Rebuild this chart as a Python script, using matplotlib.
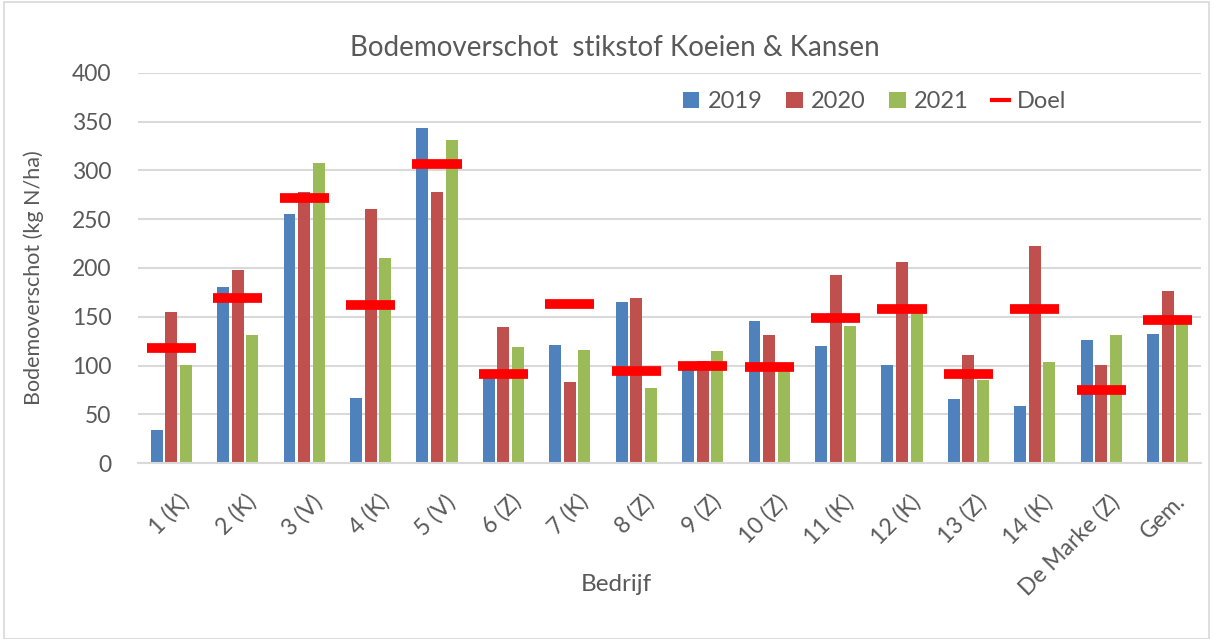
import numpy as np
import matplotlib.pyplot as plt
import matplotlib.transforms as mtransforms
from matplotlib.patches import Rectangle
from matplotlib.lines import Line2D

# data
bedrijven = ['1 (K)', '2 (K)', '3 (V)', '4 (K)', '5 (V)', '6 (Z)', '7 (K)', '8 (Z)',
             '9 (Z)', '10 (Z)', '11 (K)', '12 (K)', '13 (Z)', '14 (K)', 'De Marke (Z)', 'Gem.']
y2019 = [34, 181, 255, 67, 344, 90, 121, 165, 97, 146, 120, 101, 66, 58, 126, 132]
y2020 = [155, 198, 278, 260, 278, 139, 83, 169, 105, 131, 193, 206, 111, 223, 101, 176]
y2021 = [101, 131, 308, 210, 331, 119, 116, 77, 115, 96, 141, 155, 85, 104, 131, 143]
doel = [118, 169, 272, 162, 307, 91, 163, 94, 99, 98, 149, 158, 91, 158, 75, 147]

grijs = '#595959'
plt.rcParams['font.family'] = ['Lato', 'DejaVu Sans']

fig = plt.figure(figsize=(12.13, 6.39), dpi=100)
ax = fig.add_axes([0.1138, 0.2754, 0.8762, 0.6104])

x = np.arange(len(bedrijven))
w = 0.18
ax.bar(x - 0.22, y2019, w, color='#4F81BD', label='2019', zorder=2)
ax.bar(x, y2020, w, color='#C0504D', label='2020', zorder=2)
ax.bar(x + 0.22, y2021, w, color='#9BBB59', label='2021', zorder=2)
# doel as thick horizontal dashes
ax.hlines(doel, x - 0.37, x + 0.37, colors='#FF0000', linewidth=7, zorder=3)

ax.set_xlim(-0.5, len(bedrijven) - 0.5)
ax.set_ylim(0, 400)
ax.set_yticks(range(0, 401, 50))
ax.grid(axis='y', color='#D9D9D9', linewidth=1.5, zorder=0)
ax.set_axisbelow(True)
for s in ['top', 'right', 'left']:
    ax.spines[s].set_visible(False)
ax.spines['bottom'].set_color('#D9D9D9')
ax.spines['bottom'].set_linewidth(1.5)
ax.tick_params(length=0, colors=grijs, labelsize=16.5)
ax.tick_params(axis='y', pad=19)
ax.tick_params(axis='x', pad=20)
ax.set_xticks(x)
ax.set_xticklabels(bedrijven, rotation=45, ha='right', rotation_mode='anchor')
shift = mtransforms.ScaledTranslation(0.07, 0, fig.dpi_scale_trans)
for lbl in ax.get_xticklabels():
    lbl.set_transform(lbl.get_transform() + shift)

fig.text(0.028, 0.565, 'Bodemoverschot (kg N/ha)', rotation=90, ha='center',
         va='center', color=grijs, fontsize=15.5)
fig.text(0.508, 0.085, 'Bedrijf', ha='center', va='center', color=grijs, fontsize=17.5)
fig.text(0.507, 0.925, 'Bodemoverschot  stikstof Koeien & Kansen', ha='center',
         va='center', color=grijs, fontsize=20)

handles, labels = ax.get_legend_handles_labels()
handles.append(Line2D([], [], color='#FF0000', linewidth=3))
labels.append('Doel')
leg = ax.legend(handles, labels, ncol=4, loc='center', bbox_to_anchor=(0.693, 0.926),
                frameon=False, fontsize=17, handlelength=0.7, handleheight=0.7,
                handletextpad=0.35, columnspacing=1.0)
for t in leg.get_texts():
    t.set_color(grijs)

# light frame round the chart
fig.patches.append(Rectangle((0.003, 0.0), 0.994, 0.997, transform=fig.transFigure,
                             fill=False, edgecolor='#D9D9D9', linewidth=1.2))

fig.savefig('out.png', dpi=100)
